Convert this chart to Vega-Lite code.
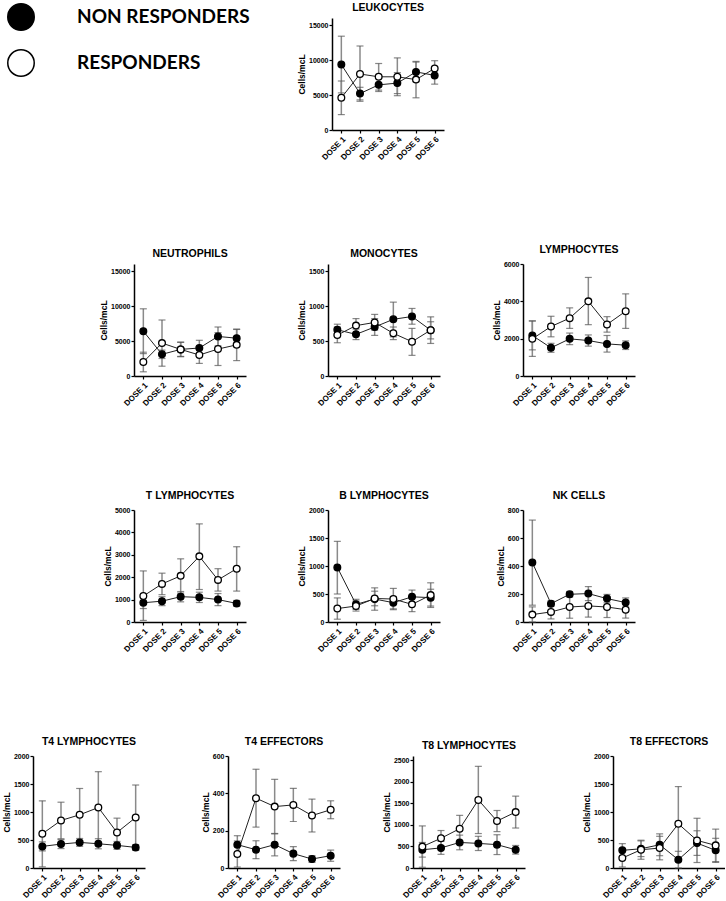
{
"$schema":"https://vega.github.io/schema/vega-lite/v6.json",
"padding":{"left":0,"top":2,"right":0,"bottom":0},
"datasets":{"d":[
{"p":"LEUK","g":"NON RESPONDERS","d":"DOSE 1","m":9350,"lo":5300,"hi":13400},
{"p":"LEUK","g":"NON RESPONDERS","d":"DOSE 2","m":5200,"lo":4300,"hi":6100},
{"p":"LEUK","g":"NON RESPONDERS","d":"DOSE 3","m":6450,"lo":5500,"hi":7400},
{"p":"LEUK","g":"NON RESPONDERS","d":"DOSE 4","m":6700,"lo":5200,"hi":8200},
{"p":"LEUK","g":"NON RESPONDERS","d":"DOSE 5","m":8300,"lo":6900,"hi":9700},
{"p":"LEUK","g":"NON RESPONDERS","d":"DOSE 6","m":7800,"lo":6550,"hi":9000},
{"p":"LEUK","g":"RESPONDERS","d":"DOSE 1","m":4600,"lo":2200,"hi":7000},
{"p":"LEUK","g":"RESPONDERS","d":"DOSE 2","m":8000,"lo":4100,"hi":12000},
{"p":"LEUK","g":"RESPONDERS","d":"DOSE 3","m":7600,"lo":5700,"hi":9500},
{"p":"LEUK","g":"RESPONDERS","d":"DOSE 4","m":7600,"lo":4900,"hi":10300},
{"p":"LEUK","g":"RESPONDERS","d":"DOSE 5","m":7200,"lo":4600,"hi":9800},
{"p":"LEUK","g":"RESPONDERS","d":"DOSE 6","m":8800,"lo":7700,"hi":9900},
{"p":"NEU","g":"NON RESPONDERS","d":"DOSE 1","m":6400,"lo":3200,"hi":9600},
{"p":"NEU","g":"NON RESPONDERS","d":"DOSE 2","m":3100,"lo":2500,"hi":3700},
{"p":"NEU","g":"NON RESPONDERS","d":"DOSE 3","m":3800,"lo":2800,"hi":4800},
{"p":"NEU","g":"NON RESPONDERS","d":"DOSE 4","m":4000,"lo":2900,"hi":5100},
{"p":"NEU","g":"NON RESPONDERS","d":"DOSE 5","m":5650,"lo":4300,"hi":7000},
{"p":"NEU","g":"NON RESPONDERS","d":"DOSE 6","m":5400,"lo":4150,"hi":6650},
{"p":"NEU","g":"RESPONDERS","d":"DOSE 1","m":2000,"lo":600,"hi":3400},
{"p":"NEU","g":"RESPONDERS","d":"DOSE 2","m":4700,"lo":1400,"hi":8000},
{"p":"NEU","g":"RESPONDERS","d":"DOSE 3","m":3800,"lo":2750,"hi":4850},
{"p":"NEU","g":"RESPONDERS","d":"DOSE 4","m":3000,"lo":1800,"hi":4200},
{"p":"NEU","g":"RESPONDERS","d":"DOSE 5","m":3850,"lo":1500,"hi":6200},
{"p":"NEU","g":"RESPONDERS","d":"DOSE 6","m":4450,"lo":2200,"hi":6700},
{"p":"MONO","g":"NON RESPONDERS","d":"DOSE 1","m":660,"lo":580,"hi":740},
{"p":"MONO","g":"NON RESPONDERS","d":"DOSE 2","m":595,"lo":520,"hi":670},
{"p":"MONO","g":"NON RESPONDERS","d":"DOSE 3","m":700,"lo":580,"hi":820},
{"p":"MONO","g":"NON RESPONDERS","d":"DOSE 4","m":810,"lo":560,"hi":1055},
{"p":"MONO","g":"NON RESPONDERS","d":"DOSE 5","m":850,"lo":740,"hi":965},
{"p":"MONO","g":"NON RESPONDERS","d":"DOSE 6","m":655,"lo":530,"hi":775},
{"p":"MONO","g":"RESPONDERS","d":"DOSE 1","m":585,"lo":475,"hi":700},
{"p":"MONO","g":"RESPONDERS","d":"DOSE 2","m":720,"lo":620,"hi":820},
{"p":"MONO","g":"RESPONDERS","d":"DOSE 3","m":765,"lo":655,"hi":880},
{"p":"MONO","g":"RESPONDERS","d":"DOSE 4","m":610,"lo":520,"hi":700},
{"p":"MONO","g":"RESPONDERS","d":"DOSE 5","m":490,"lo":295,"hi":680},
{"p":"MONO","g":"RESPONDERS","d":"DOSE 6","m":655,"lo":465,"hi":845},
{"p":"LYM","g":"NON RESPONDERS","d":"DOSE 1","m":2170,"lo":1400,"hi":2950},
{"p":"LYM","g":"NON RESPONDERS","d":"DOSE 2","m":1510,"lo":1270,"hi":1750},
{"p":"LYM","g":"NON RESPONDERS","d":"DOSE 3","m":1990,"lo":1680,"hi":2300},
{"p":"LYM","g":"NON RESPONDERS","d":"DOSE 4","m":1900,"lo":1600,"hi":2200},
{"p":"LYM","g":"NON RESPONDERS","d":"DOSE 5","m":1720,"lo":1280,"hi":2170},
{"p":"LYM","g":"NON RESPONDERS","d":"DOSE 6","m":1650,"lo":1420,"hi":1880},
{"p":"LYM","g":"RESPONDERS","d":"DOSE 1","m":1990,"lo":1050,"hi":2950},
{"p":"LYM","g":"RESPONDERS","d":"DOSE 2","m":2650,"lo":2100,"hi":3200},
{"p":"LYM","g":"RESPONDERS","d":"DOSE 3","m":3100,"lo":2550,"hi":3650},
{"p":"LYM","g":"RESPONDERS","d":"DOSE 4","m":4000,"lo":2750,"hi":5280},
{"p":"LYM","g":"RESPONDERS","d":"DOSE 5","m":2760,"lo":2350,"hi":3180},
{"p":"LYM","g":"RESPONDERS","d":"DOSE 6","m":3470,"lo":2550,"hi":4400},
{"p":"TLY","g":"NON RESPONDERS","d":"DOSE 1","m":860,"lo":600,"hi":1110},
{"p":"TLY","g":"NON RESPONDERS","d":"DOSE 2","m":930,"lo":730,"hi":1130},
{"p":"TLY","g":"NON RESPONDERS","d":"DOSE 3","m":1130,"lo":900,"hi":1360},
{"p":"TLY","g":"NON RESPONDERS","d":"DOSE 4","m":1100,"lo":870,"hi":1330},
{"p":"TLY","g":"NON RESPONDERS","d":"DOSE 5","m":1000,"lo":730,"hi":1270},
{"p":"TLY","g":"NON RESPONDERS","d":"DOSE 6","m":830,"lo":700,"hi":960},
{"p":"TLY","g":"RESPONDERS","d":"DOSE 1","m":1160,"lo":70,"hi":2280},
{"p":"TLY","g":"RESPONDERS","d":"DOSE 2","m":1700,"lo":1220,"hi":2180},
{"p":"TLY","g":"RESPONDERS","d":"DOSE 3","m":2060,"lo":1290,"hi":2820},
{"p":"TLY","g":"RESPONDERS","d":"DOSE 4","m":2930,"lo":1450,"hi":4380},
{"p":"TLY","g":"RESPONDERS","d":"DOSE 5","m":1880,"lo":1380,"hi":2380},
{"p":"TLY","g":"RESPONDERS","d":"DOSE 6","m":2380,"lo":1380,"hi":3360},
{"p":"BLY","g":"NON RESPONDERS","d":"DOSE 1","m":975,"lo":500,"hi":1440},
{"p":"BLY","g":"NON RESPONDERS","d":"DOSE 2","m":315,"lo":225,"hi":405},
{"p":"BLY","g":"NON RESPONDERS","d":"DOSE 3","m":410,"lo":210,"hi":610},
{"p":"BLY","g":"NON RESPONDERS","d":"DOSE 4","m":345,"lo":235,"hi":455},
{"p":"BLY","g":"NON RESPONDERS","d":"DOSE 5","m":450,"lo":330,"hi":570},
{"p":"BLY","g":"NON RESPONDERS","d":"DOSE 6","m":435,"lo":285,"hi":585},
{"p":"BLY","g":"RESPONDERS","d":"DOSE 1","m":240,"lo":50,"hi":430},
{"p":"BLY","g":"RESPONDERS","d":"DOSE 2","m":285,"lo":195,"hi":375},
{"p":"BLY","g":"RESPONDERS","d":"DOSE 3","m":420,"lo":290,"hi":550},
{"p":"BLY","g":"RESPONDERS","d":"DOSE 4","m":410,"lo":220,"hi":600},
{"p":"BLY","g":"RESPONDERS","d":"DOSE 5","m":315,"lo":185,"hi":445},
{"p":"BLY","g":"RESPONDERS","d":"DOSE 6","m":480,"lo":260,"hi":700},
{"p":"NK","g":"NON RESPONDERS","d":"DOSE 1","m":425,"lo":120,"hi":728},
{"p":"NK","g":"NON RESPONDERS","d":"DOSE 2","m":131,"lo":111,"hi":151},
{"p":"NK","g":"NON RESPONDERS","d":"DOSE 3","m":198,"lo":178,"hi":218},
{"p":"NK","g":"NON RESPONDERS","d":"DOSE 4","m":203,"lo":153,"hi":253},
{"p":"NK","g":"NON RESPONDERS","d":"DOSE 5","m":167,"lo":137,"hi":197},
{"p":"NK","g":"NON RESPONDERS","d":"DOSE 6","m":139,"lo":106,"hi":172},
{"p":"NK","g":"RESPONDERS","d":"DOSE 1","m":53,"lo":0,"hi":108},
{"p":"NK","g":"RESPONDERS","d":"DOSE 2","m":72,"lo":22,"hi":122},
{"p":"NK","g":"RESPONDERS","d":"DOSE 3","m":107,"lo":27,"hi":187},
{"p":"NK","g":"RESPONDERS","d":"DOSE 4","m":115,"lo":35,"hi":195},
{"p":"NK","g":"RESPONDERS","d":"DOSE 5","m":107,"lo":32,"hi":182},
{"p":"NK","g":"RESPONDERS","d":"DOSE 6","m":88,"lo":28,"hi":148},
{"p":"T4L","g":"NON RESPONDERS","d":"DOSE 1","m":386,"lo":306,"hi":466},
{"p":"T4L","g":"NON RESPONDERS","d":"DOSE 2","m":427,"lo":347,"hi":507},
{"p":"T4L","g":"NON RESPONDERS","d":"DOSE 3","m":457,"lo":387,"hi":527},
{"p":"T4L","g":"NON RESPONDERS","d":"DOSE 4","m":433,"lo":343,"hi":523},
{"p":"T4L","g":"NON RESPONDERS","d":"DOSE 5","m":404,"lo":334,"hi":474},
{"p":"T4L","g":"NON RESPONDERS","d":"DOSE 6","m":368,"lo":318,"hi":418},
{"p":"T4L","g":"RESPONDERS","d":"DOSE 1","m":611,"lo":20,"hi":1200},
{"p":"T4L","g":"RESPONDERS","d":"DOSE 2","m":849,"lo":523,"hi":1175},
{"p":"T4L","g":"RESPONDERS","d":"DOSE 3","m":950,"lo":480,"hi":1420},
{"p":"T4L","g":"RESPONDERS","d":"DOSE 4","m":1080,"lo":440,"hi":1720},
{"p":"T4L","g":"RESPONDERS","d":"DOSE 5","m":635,"lo":380,"hi":890},
{"p":"T4L","g":"RESPONDERS","d":"DOSE 6","m":902,"lo":322,"hi":1482},
{"p":"T4E","g":"NON RESPONDERS","d":"DOSE 1","m":125,"lo":77,"hi":173},
{"p":"T4E","g":"NON RESPONDERS","d":"DOSE 2","m":98,"lo":50,"hi":146},
{"p":"T4E","g":"NON RESPONDERS","d":"DOSE 3","m":125,"lo":65,"hi":185},
{"p":"T4E","g":"NON RESPONDERS","d":"DOSE 4","m":77,"lo":40,"hi":114},
{"p":"T4E","g":"NON RESPONDERS","d":"DOSE 5","m":48,"lo":30,"hi":66},
{"p":"T4E","g":"NON RESPONDERS","d":"DOSE 6","m":66,"lo":36,"hi":96},
{"p":"T4E","g":"RESPONDERS","d":"DOSE 1","m":75,"lo":5,"hi":145},
{"p":"T4E","g":"RESPONDERS","d":"DOSE 2","m":374,"lo":219,"hi":529},
{"p":"T4E","g":"RESPONDERS","d":"DOSE 3","m":329,"lo":183,"hi":475},
{"p":"T4E","g":"RESPONDERS","d":"DOSE 4","m":338,"lo":249,"hi":427},
{"p":"T4E","g":"RESPONDERS","d":"DOSE 5","m":281,"lo":193,"hi":369},
{"p":"T4E","g":"RESPONDERS","d":"DOSE 6","m":312,"lo":264,"hi":360},
{"p":"T8L","g":"NON RESPONDERS","d":"DOSE 1","m":423,"lo":253,"hi":593},
{"p":"T8L","g":"NON RESPONDERS","d":"DOSE 2","m":467,"lo":317,"hi":617},
{"p":"T8L","g":"NON RESPONDERS","d":"DOSE 3","m":593,"lo":423,"hi":763},
{"p":"T8L","g":"NON RESPONDERS","d":"DOSE 4","m":571,"lo":406,"hi":736},
{"p":"T8L","g":"NON RESPONDERS","d":"DOSE 5","m":542,"lo":312,"hi":772},
{"p":"T8L","g":"NON RESPONDERS","d":"DOSE 6","m":423,"lo":323,"hi":523},
{"p":"T8L","g":"RESPONDERS","d":"DOSE 1","m":497,"lo":17,"hi":977},
{"p":"T8L","g":"RESPONDERS","d":"DOSE 2","m":690,"lo":510,"hi":870},
{"p":"T8L","g":"RESPONDERS","d":"DOSE 3","m":912,"lo":602,"hi":1222},
{"p":"T8L","g":"RESPONDERS","d":"DOSE 4","m":1580,"lo":800,"hi":2360},
{"p":"T8L","g":"RESPONDERS","d":"DOSE 5","m":1090,"lo":845,"hi":1335},
{"p":"T8L","g":"RESPONDERS","d":"DOSE 6","m":1298,"lo":928,"hi":1668},
{"p":"T8E","g":"NON RESPONDERS","d":"DOSE 1","m":315,"lo":195,"hi":435},
{"p":"T8E","g":"NON RESPONDERS","d":"DOSE 2","m":344,"lo":204,"hi":484},
{"p":"T8E","g":"NON RESPONDERS","d":"DOSE 3","m":415,"lo":220,"hi":610},
{"p":"T8E","g":"NON RESPONDERS","d":"DOSE 4","m":148,"lo":0,"hi":298},
{"p":"T8E","g":"NON RESPONDERS","d":"DOSE 5","m":445,"lo":225,"hi":665},
{"p":"T8E","g":"NON RESPONDERS","d":"DOSE 6","m":315,"lo":100,"hi":530},
{"p":"T8E","g":"RESPONDERS","d":"DOSE 1","m":178,"lo":18,"hi":338},
{"p":"T8E","g":"RESPONDERS","d":"DOSE 2","m":326,"lo":156,"hi":496},
{"p":"T8E","g":"RESPONDERS","d":"DOSE 3","m":356,"lo":146,"hi":566},
{"p":"T8E","g":"RESPONDERS","d":"DOSE 4","m":789,"lo":124,"hi":1454},
{"p":"T8E","g":"RESPONDERS","d":"DOSE 5","m":493,"lo":98,"hi":888},
{"p":"T8E","g":"RESPONDERS","d":"DOSE 6","m":404,"lo":114,"hi":694}
]},
"spacing":82,
"vconcat":[
{"hconcat":[
{"width":332,"height":112,"data":{"values":[]},"mark":"point"},
{"title":"LEUKOCYTES","width":112,"height":112,"data":{"name":"d"},"transform":[{"filter":"datum.p==='LEUK'"}],
 "encoding":{"x":{"field":"d","type":"ordinal","scale":{"type":"point","padding":0.5},"axis":{"title":null}}},
 "layer":[
  {"mark":{"type":"rule","color":"#8a8a8a","strokeWidth":1.5},"encoding":{"y":{"field":"lo","type":"quantitative","scale":{"domain":[0,15000]},"axis":{"title":"Cells/mcL","values":[0,5000,10000,15000]}},"y2":{"field":"hi"}}},
  {"mark":{"type":"tick","color":"#555","size":7,"thickness":1.2},"encoding":{"y":{"field":"lo","type":"quantitative","axis":{"title":"Cells/mcL","values":[0,5000,10000,15000]}}}},
  {"mark":{"type":"tick","color":"#555","size":7,"thickness":1.2},"encoding":{"y":{"field":"hi","type":"quantitative","axis":{"title":"Cells/mcL","values":[0,5000,10000,15000]}}}},
  {"mark":{"type":"line","color":"#222","strokeWidth":1},"encoding":{"y":{"field":"m","type":"quantitative","axis":{"title":"Cells/mcL","values":[0,5000,10000,15000]}},"detail":{"field":"g"}}},
  {"mark":{"type":"point","shape":"circle","filled":true,"size":45,"stroke":"black","strokeWidth":1.3,"opacity":1},"encoding":{"y":{"field":"m","type":"quantitative","axis":{"title":"Cells/mcL","values":[0,5000,10000,15000]}},"fill":{"field":"g","type":"nominal","scale":{"domain":["NON RESPONDERS","RESPONDERS"],"range":["black","white"]},"legend":{"title":null}}}}
 ]}
],"spacing":0,"bounds":"flush"},
{"hconcat":[
{"width":134,"height":112,"data":{"values":[]},"mark":"point"},
{"title":"NEUTROPHILS","width":112,"height":112,"data":{"name":"d"},"transform":[{"filter":"datum.p==='NEU'"}],
 "encoding":{"x":{"field":"d","type":"ordinal","scale":{"type":"point","padding":0.5},"axis":{"title":null}}},
 "layer":[
  {"mark":{"type":"rule","color":"#8a8a8a","strokeWidth":1.5},"encoding":{"y":{"field":"lo","type":"quantitative","scale":{"domain":[0,15000]},"axis":{"title":"Cells/mcL","values":[0,5000,10000,15000]}},"y2":{"field":"hi"}}},
  {"mark":{"type":"tick","color":"#555","size":7,"thickness":1.2},"encoding":{"y":{"field":"lo","type":"quantitative","axis":{"title":"Cells/mcL","values":[0,5000,10000,15000]}}}},
  {"mark":{"type":"tick","color":"#555","size":7,"thickness":1.2},"encoding":{"y":{"field":"hi","type":"quantitative","axis":{"title":"Cells/mcL","values":[0,5000,10000,15000]}}}},
  {"mark":{"type":"line","color":"#222","strokeWidth":1},"encoding":{"y":{"field":"m","type":"quantitative","axis":{"title":"Cells/mcL","values":[0,5000,10000,15000]}},"detail":{"field":"g"}}},
  {"mark":{"type":"point","shape":"circle","filled":true,"size":45,"stroke":"black","strokeWidth":1.3,"opacity":1},"encoding":{"y":{"field":"m","type":"quantitative","axis":{"title":"Cells/mcL","values":[0,5000,10000,15000]}},"fill":{"field":"g","type":"nominal","scale":{"domain":["NON RESPONDERS","RESPONDERS"],"range":["black","white"]},"legend":{"title":null}}}}
 ]},
{"width":82,"height":112,"data":{"values":[]},"mark":"point"},
{"title":"MONOCYTES","width":112,"height":112,"data":{"name":"d"},"transform":[{"filter":"datum.p==='MONO'"}],
 "encoding":{"x":{"field":"d","type":"ordinal","scale":{"type":"point","padding":0.5},"axis":{"title":null}}},
 "layer":[
  {"mark":{"type":"rule","color":"#8a8a8a","strokeWidth":1.5},"encoding":{"y":{"field":"lo","type":"quantitative","scale":{"domain":[0,1500]},"axis":{"title":"Cells/mcL","values":[0,500,1000,1500]}},"y2":{"field":"hi"}}},
  {"mark":{"type":"tick","color":"#555","size":7,"thickness":1.2},"encoding":{"y":{"field":"lo","type":"quantitative","axis":{"title":"Cells/mcL","values":[0,500,1000,1500]}}}},
  {"mark":{"type":"tick","color":"#555","size":7,"thickness":1.2},"encoding":{"y":{"field":"hi","type":"quantitative","axis":{"title":"Cells/mcL","values":[0,500,1000,1500]}}}},
  {"mark":{"type":"line","color":"#222","strokeWidth":1},"encoding":{"y":{"field":"m","type":"quantitative","axis":{"title":"Cells/mcL","values":[0,500,1000,1500]}},"detail":{"field":"g"}}},
  {"mark":{"type":"point","shape":"circle","filled":true,"size":45,"stroke":"black","strokeWidth":1.3,"opacity":1},"encoding":{"y":{"field":"m","type":"quantitative","axis":{"title":"Cells/mcL","values":[0,500,1000,1500]}},"fill":{"field":"g","type":"nominal","scale":{"domain":["NON RESPONDERS","RESPONDERS"],"range":["black","white"]},"legend":{"title":null}}}}
 ]},
{"width":83,"height":112,"data":{"values":[]},"mark":"point"},
{"title":"LYMPHOCYTES","width":112,"height":112,"data":{"name":"d"},"transform":[{"filter":"datum.p==='LYM'"}],
 "encoding":{"x":{"field":"d","type":"ordinal","scale":{"type":"point","padding":0.5},"axis":{"title":null}}},
 "layer":[
  {"mark":{"type":"rule","color":"#8a8a8a","strokeWidth":1.5},"encoding":{"y":{"field":"lo","type":"quantitative","scale":{"domain":[0,6000]},"axis":{"title":"Cells/mcL","values":[0,2000,4000,6000]}},"y2":{"field":"hi"}}},
  {"mark":{"type":"tick","color":"#555","size":7,"thickness":1.2},"encoding":{"y":{"field":"lo","type":"quantitative","axis":{"title":"Cells/mcL","values":[0,2000,4000,6000]}}}},
  {"mark":{"type":"tick","color":"#555","size":7,"thickness":1.2},"encoding":{"y":{"field":"hi","type":"quantitative","axis":{"title":"Cells/mcL","values":[0,2000,4000,6000]}}}},
  {"mark":{"type":"line","color":"#222","strokeWidth":1},"encoding":{"y":{"field":"m","type":"quantitative","axis":{"title":"Cells/mcL","values":[0,2000,4000,6000]}},"detail":{"field":"g"}}},
  {"mark":{"type":"point","shape":"circle","filled":true,"size":45,"stroke":"black","strokeWidth":1.3,"opacity":1},"encoding":{"y":{"field":"m","type":"quantitative","axis":{"title":"Cells/mcL","values":[0,2000,4000,6000]}},"fill":{"field":"g","type":"nominal","scale":{"domain":["NON RESPONDERS","RESPONDERS"],"range":["black","white"]},"legend":{"title":null}}}}
 ]}
],"spacing":0,"bounds":"flush"},
{"hconcat":[
{"width":134,"height":112,"data":{"values":[]},"mark":"point"},
{"title":"T LYMPHOCYTES","width":112,"height":112,"data":{"name":"d"},"transform":[{"filter":"datum.p==='TLY'"}],
 "encoding":{"x":{"field":"d","type":"ordinal","scale":{"type":"point","padding":0.5},"axis":{"title":null}}},
 "layer":[
  {"mark":{"type":"rule","color":"#8a8a8a","strokeWidth":1.5},"encoding":{"y":{"field":"lo","type":"quantitative","scale":{"domain":[0,5000]},"axis":{"title":"Cells/mcL","values":[0,1000,2000,3000,4000,5000]}},"y2":{"field":"hi"}}},
  {"mark":{"type":"tick","color":"#555","size":7,"thickness":1.2},"encoding":{"y":{"field":"lo","type":"quantitative","axis":{"title":"Cells/mcL","values":[0,1000,2000,3000,4000,5000]}}}},
  {"mark":{"type":"tick","color":"#555","size":7,"thickness":1.2},"encoding":{"y":{"field":"hi","type":"quantitative","axis":{"title":"Cells/mcL","values":[0,1000,2000,3000,4000,5000]}}}},
  {"mark":{"type":"line","color":"#222","strokeWidth":1},"encoding":{"y":{"field":"m","type":"quantitative","axis":{"title":"Cells/mcL","values":[0,1000,2000,3000,4000,5000]}},"detail":{"field":"g"}}},
  {"mark":{"type":"point","shape":"circle","filled":true,"size":45,"stroke":"black","strokeWidth":1.3,"opacity":1},"encoding":{"y":{"field":"m","type":"quantitative","axis":{"title":"Cells/mcL","values":[0,1000,2000,3000,4000,5000]}},"fill":{"field":"g","type":"nominal","scale":{"domain":["NON RESPONDERS","RESPONDERS"],"range":["black","white"]},"legend":{"title":null}}}}
 ]},
{"width":82,"height":112,"data":{"values":[]},"mark":"point"},
{"title":"B LYMPHOCYTES","width":112,"height":112,"data":{"name":"d"},"transform":[{"filter":"datum.p==='BLY'"}],
 "encoding":{"x":{"field":"d","type":"ordinal","scale":{"type":"point","padding":0.5},"axis":{"title":null}}},
 "layer":[
  {"mark":{"type":"rule","color":"#8a8a8a","strokeWidth":1.5},"encoding":{"y":{"field":"lo","type":"quantitative","scale":{"domain":[0,2000]},"axis":{"title":"Cells/mcL","values":[0,500,1000,1500,2000]}},"y2":{"field":"hi"}}},
  {"mark":{"type":"tick","color":"#555","size":7,"thickness":1.2},"encoding":{"y":{"field":"lo","type":"quantitative","axis":{"title":"Cells/mcL","values":[0,500,1000,1500,2000]}}}},
  {"mark":{"type":"tick","color":"#555","size":7,"thickness":1.2},"encoding":{"y":{"field":"hi","type":"quantitative","axis":{"title":"Cells/mcL","values":[0,500,1000,1500,2000]}}}},
  {"mark":{"type":"line","color":"#222","strokeWidth":1},"encoding":{"y":{"field":"m","type":"quantitative","axis":{"title":"Cells/mcL","values":[0,500,1000,1500,2000]}},"detail":{"field":"g"}}},
  {"mark":{"type":"point","shape":"circle","filled":true,"size":45,"stroke":"black","strokeWidth":1.3,"opacity":1},"encoding":{"y":{"field":"m","type":"quantitative","axis":{"title":"Cells/mcL","values":[0,500,1000,1500,2000]}},"fill":{"field":"g","type":"nominal","scale":{"domain":["NON RESPONDERS","RESPONDERS"],"range":["black","white"]},"legend":{"title":null}}}}
 ]},
{"width":83,"height":112,"data":{"values":[]},"mark":"point"},
{"title":"NK CELLS","width":112,"height":112,"data":{"name":"d"},"transform":[{"filter":"datum.p==='NK'"}],
 "encoding":{"x":{"field":"d","type":"ordinal","scale":{"type":"point","padding":0.5},"axis":{"title":null}}},
 "layer":[
  {"mark":{"type":"rule","color":"#8a8a8a","strokeWidth":1.5},"encoding":{"y":{"field":"lo","type":"quantitative","scale":{"domain":[0,800]},"axis":{"title":"Cells/mcL","values":[0,200,400,600,800]}},"y2":{"field":"hi"}}},
  {"mark":{"type":"tick","color":"#555","size":7,"thickness":1.2},"encoding":{"y":{"field":"lo","type":"quantitative","axis":{"title":"Cells/mcL","values":[0,200,400,600,800]}}}},
  {"mark":{"type":"tick","color":"#555","size":7,"thickness":1.2},"encoding":{"y":{"field":"hi","type":"quantitative","axis":{"title":"Cells/mcL","values":[0,200,400,600,800]}}}},
  {"mark":{"type":"line","color":"#222","strokeWidth":1},"encoding":{"y":{"field":"m","type":"quantitative","axis":{"title":"Cells/mcL","values":[0,200,400,600,800]}},"detail":{"field":"g"}}},
  {"mark":{"type":"point","shape":"circle","filled":true,"size":45,"stroke":"black","strokeWidth":1.3,"opacity":1},"encoding":{"y":{"field":"m","type":"quantitative","axis":{"title":"Cells/mcL","values":[0,200,400,600,800]}},"fill":{"field":"g","type":"nominal","scale":{"domain":["NON RESPONDERS","RESPONDERS"],"range":["black","white"]},"legend":{"title":null}}}}
 ]}
],"spacing":0,"bounds":"flush"},
{"hconcat":[
{"width":33,"height":112,"data":{"values":[]},"mark":"point"},
{"title":"T4 LYMPHOCYTES","width":112,"height":112,"data":{"name":"d"},"transform":[{"filter":"datum.p==='T4L'"}],
 "encoding":{"x":{"field":"d","type":"ordinal","scale":{"type":"point","padding":0.5},"axis":{"title":null}}},
 "layer":[
  {"mark":{"type":"rule","color":"#8a8a8a","strokeWidth":1.5},"encoding":{"y":{"field":"lo","type":"quantitative","scale":{"domain":[0,2000]},"axis":{"title":"Cells/mcL","values":[0,500,1000,1500,2000]}},"y2":{"field":"hi"}}},
  {"mark":{"type":"tick","color":"#555","size":7,"thickness":1.2},"encoding":{"y":{"field":"lo","type":"quantitative","axis":{"title":"Cells/mcL","values":[0,500,1000,1500,2000]}}}},
  {"mark":{"type":"tick","color":"#555","size":7,"thickness":1.2},"encoding":{"y":{"field":"hi","type":"quantitative","axis":{"title":"Cells/mcL","values":[0,500,1000,1500,2000]}}}},
  {"mark":{"type":"line","color":"#222","strokeWidth":1},"encoding":{"y":{"field":"m","type":"quantitative","axis":{"title":"Cells/mcL","values":[0,500,1000,1500,2000]}},"detail":{"field":"g"}}},
  {"mark":{"type":"point","shape":"circle","filled":true,"size":45,"stroke":"black","strokeWidth":1.3,"opacity":1},"encoding":{"y":{"field":"m","type":"quantitative","axis":{"title":"Cells/mcL","values":[0,500,1000,1500,2000]}},"fill":{"field":"g","type":"nominal","scale":{"domain":["NON RESPONDERS","RESPONDERS"],"range":["black","white"]},"legend":{"title":null}}}}
 ]},
{"width":83,"height":112,"data":{"values":[]},"mark":"point"},
{"title":"T4 EFFECTORS","width":112,"height":112,"data":{"name":"d"},"transform":[{"filter":"datum.p==='T4E'"}],
 "encoding":{"x":{"field":"d","type":"ordinal","scale":{"type":"point","padding":0.5},"axis":{"title":null}}},
 "layer":[
  {"mark":{"type":"rule","color":"#8a8a8a","strokeWidth":1.5},"encoding":{"y":{"field":"lo","type":"quantitative","scale":{"domain":[0,600]},"axis":{"title":"Cells/mcL","values":[0,200,400,600]}},"y2":{"field":"hi"}}},
  {"mark":{"type":"tick","color":"#555","size":7,"thickness":1.2},"encoding":{"y":{"field":"lo","type":"quantitative","axis":{"title":"Cells/mcL","values":[0,200,400,600]}}}},
  {"mark":{"type":"tick","color":"#555","size":7,"thickness":1.2},"encoding":{"y":{"field":"hi","type":"quantitative","axis":{"title":"Cells/mcL","values":[0,200,400,600]}}}},
  {"mark":{"type":"line","color":"#222","strokeWidth":1},"encoding":{"y":{"field":"m","type":"quantitative","axis":{"title":"Cells/mcL","values":[0,200,400,600]}},"detail":{"field":"g"}}},
  {"mark":{"type":"point","shape":"circle","filled":true,"size":45,"stroke":"black","strokeWidth":1.3,"opacity":1},"encoding":{"y":{"field":"m","type":"quantitative","axis":{"title":"Cells/mcL","values":[0,200,400,600]}},"fill":{"field":"g","type":"nominal","scale":{"domain":["NON RESPONDERS","RESPONDERS"],"range":["black","white"]},"legend":{"title":null}}}}
 ]},
{"width":73,"height":112,"data":{"values":[]},"mark":"point"},
{"title":"T8 LYMPHOCYTES","width":112,"height":112,"data":{"name":"d"},"transform":[{"filter":"datum.p==='T8L'"}],
 "encoding":{"x":{"field":"d","type":"ordinal","scale":{"type":"point","padding":0.5},"axis":{"title":null}}},
 "layer":[
  {"mark":{"type":"rule","color":"#8a8a8a","strokeWidth":1.5},"encoding":{"y":{"field":"lo","type":"quantitative","scale":{"domain":[0,2500]},"axis":{"title":"Cells/mcL","values":[0,500,1000,1500,2000,2500]}},"y2":{"field":"hi"}}},
  {"mark":{"type":"tick","color":"#555","size":7,"thickness":1.2},"encoding":{"y":{"field":"lo","type":"quantitative","axis":{"title":"Cells/mcL","values":[0,500,1000,1500,2000,2500]}}}},
  {"mark":{"type":"tick","color":"#555","size":7,"thickness":1.2},"encoding":{"y":{"field":"hi","type":"quantitative","axis":{"title":"Cells/mcL","values":[0,500,1000,1500,2000,2500]}}}},
  {"mark":{"type":"line","color":"#222","strokeWidth":1},"encoding":{"y":{"field":"m","type":"quantitative","axis":{"title":"Cells/mcL","values":[0,500,1000,1500,2000,2500]}},"detail":{"field":"g"}}},
  {"mark":{"type":"point","shape":"circle","filled":true,"size":45,"stroke":"black","strokeWidth":1.3,"opacity":1},"encoding":{"y":{"field":"m","type":"quantitative","axis":{"title":"Cells/mcL","values":[0,500,1000,1500,2000,2500]}},"fill":{"field":"g","type":"nominal","scale":{"domain":["NON RESPONDERS","RESPONDERS"],"range":["black","white"]},"legend":{"title":null}}}}
 ]},
{"width":88,"height":112,"data":{"values":[]},"mark":"point"},
{"title":"T8 EFFECTORS","width":112,"height":112,"data":{"name":"d"},"transform":[{"filter":"datum.p==='T8E'"}],
 "encoding":{"x":{"field":"d","type":"ordinal","scale":{"type":"point","padding":0.5},"axis":{"title":null}}},
 "layer":[
  {"mark":{"type":"rule","color":"#8a8a8a","strokeWidth":1.5},"encoding":{"y":{"field":"lo","type":"quantitative","scale":{"domain":[0,2000]},"axis":{"title":"Cells/mcL","values":[0,500,1000,1500,2000]}},"y2":{"field":"hi"}}},
  {"mark":{"type":"tick","color":"#555","size":7,"thickness":1.2},"encoding":{"y":{"field":"lo","type":"quantitative","axis":{"title":"Cells/mcL","values":[0,500,1000,1500,2000]}}}},
  {"mark":{"type":"tick","color":"#555","size":7,"thickness":1.2},"encoding":{"y":{"field":"hi","type":"quantitative","axis":{"title":"Cells/mcL","values":[0,500,1000,1500,2000]}}}},
  {"mark":{"type":"line","color":"#222","strokeWidth":1},"encoding":{"y":{"field":"m","type":"quantitative","axis":{"title":"Cells/mcL","values":[0,500,1000,1500,2000]}},"detail":{"field":"g"}}},
  {"mark":{"type":"point","shape":"circle","filled":true,"size":45,"stroke":"black","strokeWidth":1.3,"opacity":1},"encoding":{"y":{"field":"m","type":"quantitative","axis":{"title":"Cells/mcL","values":[0,500,1000,1500,2000]}},"fill":{"field":"g","type":"nominal","scale":{"domain":["NON RESPONDERS","RESPONDERS"],"range":["black","white"]},"legend":{"title":null}}}}
 ]}
],"spacing":0,"bounds":"flush"}
],
"config":{
 "view":{"stroke":null},
 "font":"Liberation Sans",
 "numberFormat":"d",
 "axis":{"domainColor":"black","domainWidth":1.5,"tickColor":"black","tickWidth":1.2,"labelColor":"black","labelFontWeight":"bold","labelFontSize":7,"titleFontWeight":"bold","titleFontSize":8.5,"titleColor":"black","grid":false,"labelOverlap":false},
 "axisY":{"tickSize":3,"labelPadding":1,"titlePadding":2},
 "axisX":{"labelAngle":-45,"labelFontSize":8,"tickSize":3,"labelPadding":2},
 "title":{"fontSize":10.5,"fontWeight":"bold","font":"Liberation Sans","color":"black","offset":5,"frame":"group"},
 "legend":{"orient":"none","legendX":7,"legendY":-15,"symbolSize":700,"symbolType":"circle","symbolStrokeColor":"black","symbolStrokeWidth":1.5,"labelFont":"Lato","labelFontSize":19,"labelFontWeight":"bold","labelColor":"black","labelOffset":42,"rowPadding":12,"labelLimit":400}
}
}
